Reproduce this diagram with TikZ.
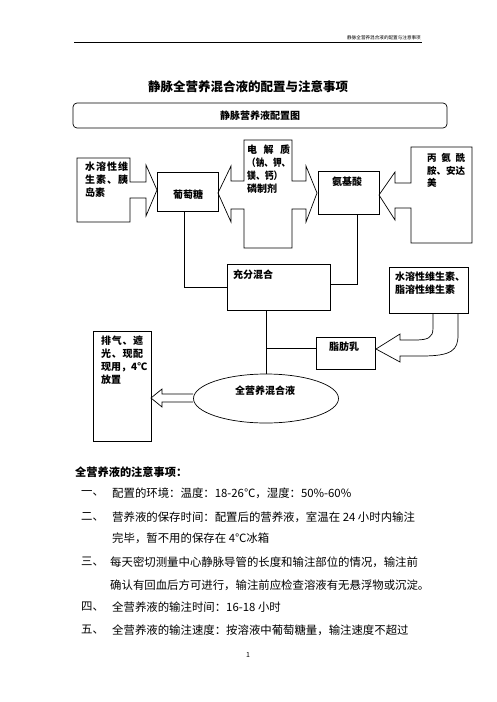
\documentclass[tikz,border=0pt]{standalone}
\usepackage{fontspec}
\setmainfont{Noto Sans CJK SC}
\usepackage{graphicx}
\usetikzlibrary{shapes.geometric}
\newcommand\jl[2]{\makebox[#1][s]{#2}}
\begin{document}
\begin{tikzpicture}[x=1pt,y=-1pt,
  frame/.style={draw, line width=0.7pt, inner sep=0pt},
  lab/.style={font=\fontsize{10}{13}\selectfont\bfseries, inner sep=0pt, anchor=north west, align=left},
  clab/.style={font=\fontsize{10}{13}\selectfont\bfseries, inner sep=0pt},
  body/.style={font=\fontsize{11.4}{14}\selectfont, inner sep=0pt, anchor=west},
  num/.style={font=\fontsize{11.4}{14}\selectfont, inner sep=0pt, anchor=west}]
\useasboundingbox (0,0) rectangle (496,702);
\fill[white] (0,0) rectangle (496,702);
% header
\coordinate (hl) at (74,42);
\coordinate (hr) at (422,42);
\draw[line width=0.7pt] (hl) -- (hr);
\node[font=\fontsize{4.6}{5}\selectfont, inner sep=0pt, anchor=south east] (htxt) at (421,40.5) {静脉全营养混合液的配置与注意事项};
% title
\node[font=\fontsize{12.5}{14}\selectfont\bfseries, inner sep=0pt] (title) at (248,87) {静脉全营养混合液的配置与注意事项};
\node[frame, rounded corners=4pt, minimum width=374pt, minimum height=25pt, font=\fontsize{10}{12}\selectfont\bfseries] (chart) at (260,115.5) {静脉营养液配置图};

% left callout
\draw[frame] (77,158) -- (130,158) -- (130,182) -- (146,182) -- (146,165) -- (157,190) -- (146,216) -- (146,198) -- (130,198) -- (130,222) -- (77,222) -- cycle;
\node[lab] (wtxt) at (85,161.5) {\jl{43pt}{水\hfill{}溶\hfill{}性\hfill{}维}\\\jl{43pt}{生\hfill{}素\hfill{}、\hfill{}胰}\\岛素};

% glucose
\node[frame, minimum width=61pt, minimum height=39pt] (glu) at (187.5,191.5) {};
\node[clab] (glutxt) at (188,195) {葡萄糖};

% middle double callout
\draw[frame] (244,140) -- (292,140) -- (292,181) -- (306,181) -- (306,166) -- (317,193) -- (306,222) -- (306,209) -- (292,209) -- (292,248) -- (244,248) -- (244,209) -- (231,209) -- (231,222) -- (218,193) -- (231,166) -- (231,181) -- (244,181) -- cycle;
\node[lab] (etxt) at (247,144.5) {\jl{43pt}{电\hfill{}解\hfill{}质}\\\scalebox{0.86}[1]{（钠、钾、}\\\scalebox{0.88}[1]{镁、钙）}\\磷制剂};

% amino acids
\node[frame, minimum width=61pt, minimum height=43pt] (amino) at (348.5,192.5) {};
\node[clab] (aminotxt) at (347,182) {氨基酸};

% right callout
\draw[frame] (411,147) -- (472,147) -- (472,243) -- (411,243) -- (411,208) -- (395,208) -- (395,220) -- (379,195) -- (395,172) -- (395,183) -- (411,183) -- cycle;
\node[lab, font=\fontsize{9.5}{12.8}\selectfont\bfseries] (atxt) at (427,153) {\jl{38pt}{丙\hfill{}氨\hfill{}酰}\\胺、安达\\美};

% mixing
\node[frame, minimum width=103pt, minimum height=46pt] (mix) at (278.5,287) {};
\node[lab, anchor=west] (mixtxt) at (233,275) {充分混合};

% vitamins box
\node[frame, minimum width=79pt, minimum height=46pt] (vit) at (428.5,290) {};
\node[lab] (vittxt) at (395,271.5) {水溶性维生素、\\脂溶性维生素};

% curved hollow arrow to fat emulsion
\draw[frame] (433,313) -- (433,328) .. controls (433,338) and (428,340) .. (414,340) -- (400,340) -- (400,334) -- (376,349) -- (400,362) -- (400,356) -- (422,356) .. controls (452,356) and (458,350) .. (458,335) -- (458,313);

% fat emulsion
\node[frame, minimum width=59pt, minimum height=32pt] (fat) at (345.5,353) {};
\node[clab] (fattxt) at (344,347) {脂肪乳};

% ellipse
\node[frame, ellipse, minimum width=145pt, minimum height=49pt] (ell) at (266,398.5) {};
\node[clab] (elltxt) at (265,391) {全营养混合液};

% left box
\node[frame, minimum width=58pt, minimum height=110pt] (keep) at (122,386) {};
\node[lab] (keeptxt) at (101,335.5) {\jl{42pt}{排\hfill{}气\hfill{}、\hfill{}遮}\\\jl{42pt}{光\hfill{}、\hfill{}现\hfill{}配}\\现用，4℃\\放置};

% hollow arrow ellipse -> keep box
\draw[frame] (ell.west |- 0,394) -- (162,394) -- (162,389) -- (151,398) -- (162,407) -- (162,402) -- (ell.west |- 0,402);

% connectors
\draw[frame] ([xshift=-3pt]glu.south) |- (mix.west);
\draw[frame] ([xshift=8.5pt]amino.south) |- ([yshift=3pt]mix.east);
\draw[frame] (ell.north |- mix.south) -- (ell.north);
\coordinate (fj) at ([yshift=5pt]fat.west);
\draw[frame] (fj) -- (fj -| ell.north);

% notes
\node[font=\fontsize{11.2}{14}\selectfont\bfseries, inner sep=0pt, anchor=west] (notes) at (75,472) {全营养液的注意事项：};
\node[num] (n1) at (81,493) {一、};
\node[body] (t1) at (112,493) {配置的环境：温度：18-26℃，湿度：50\%-60\%};
\node[num] (n2) at (81,517) {二、};
\node[body] (t2) at (112,517) {营养液的保存时间：配置后的营养液，室温在 24 小时内输注};
\node[body] (t2b) at (112,538) {完毕，暂不用的保存在 4℃冰箱};
\node[num] (n3) at (81,562) {三、};
\node[body] (t3) at (110,562) {每天密切测量中心静脉导管的长度和输注部位的情况，输注前};
\node[body] (t3b) at (110,585) {确认有回血后方可进行，输注前应检查溶液有无悬浮物或沉淀。};
\node[num] (n4) at (81,607) {四、};
\node[body] (t4) at (112,607) {全营养液的输注时间：16-18 小时};
\node[num] (n5) at (81,630) {五、};
\node[body] (t5) at (112,630) {全营养液的输注速度：按溶液中葡萄糖量，输注速度不超过};
\node[font=\fontsize{7}{8}\selectfont, inner sep=0pt] (page) at (248,655) {1};
\end{tikzpicture}
\end{document}
